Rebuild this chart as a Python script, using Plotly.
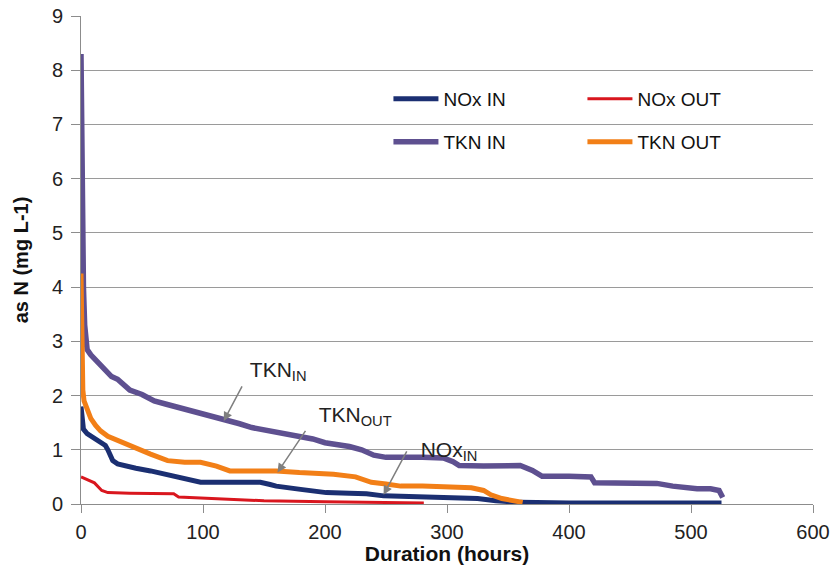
import plotly.graph_objects as go

# ---- data ----
nox_in_x = [0, 1, 2, 5, 10, 16, 20, 22, 26, 30, 35, 45, 57, 65, 71, 85, 98, 120, 147, 155, 160, 180, 201, 220, 234, 248, 270, 300, 325, 340, 352, 360, 400, 450, 500, 525]
nox_in_y = [1.8, 1.5, 1.38, 1.3, 1.22, 1.14, 1.08, 1.0, 0.8, 0.74, 0.71, 0.66, 0.61, 0.57, 0.52, 0.45, 0.40, 0.40, 0.40, 0.36, 0.33, 0.27, 0.21, 0.20, 0.19, 0.15, 0.14, 0.12, 0.10, 0.06, 0.03, 0.03, 0.02, 0.02, 0.02, 0.02]

nox_out_x = [0, 5, 11, 17, 22, 40, 76, 80, 100, 120, 150, 200, 250, 281]
nox_out_y = [0.5, 0.45, 0.39, 0.25, 0.21, 0.20, 0.19, 0.13, 0.11, 0.08, 0.06, 0.04, 0.03, 0.02]

tkn_in_x = [0, 0.5, 2, 3, 5, 8, 12, 16, 20, 25, 30, 35, 40, 50, 60, 70, 80, 90, 100, 110, 120, 130, 140, 150, 160, 170, 180, 190, 200, 210, 220, 230, 240, 250, 260, 270, 280, 290, 297, 305, 310, 330, 360, 370, 378, 400, 418, 421, 440, 460, 472, 485, 494, 505, 516, 523, 526]
tkn_in_y = [8.3, 6.0, 4.0, 3.3, 2.85, 2.75, 2.65, 2.55, 2.45, 2.35, 2.3, 2.2, 2.1, 2.02, 1.9, 1.84, 1.78, 1.72, 1.68, 1.62, 1.56, 1.48, 1.41, 1.37, 1.32, 1.28, 1.26, 1.2, 1.13, 1.1, 1.06, 1.0, 0.9, 0.86, 0.85, 0.86, 0.86, 0.86, 0.85, 0.78, 0.71, 0.70, 0.71, 0.62, 0.51, 0.51, 0.50, 0.39, 0.39, 0.39, 0.38, 0.33, 0.30, 0.28, 0.28, 0.25, 0.12]

tkn_out_x = [0, 0.5, 1.5, 2.5, 5, 8, 12, 16, 22, 30, 43, 57, 71, 85, 98, 111, 122, 140, 160, 179, 207, 225, 232, 238, 250, 262, 280, 300, 320, 330, 336, 345, 357, 362]
tkn_out_y = [4.25, 3.0, 2.1, 1.9, 1.72, 1.58, 1.45, 1.35, 1.25, 1.17, 1.04, 0.92, 0.80, 0.77, 0.77, 0.70, 0.61, 0.61, 0.61, 0.58, 0.55, 0.50, 0.45, 0.40, 0.37, 0.33, 0.33, 0.31, 0.30, 0.25, 0.17, 0.10, 0.05, 0.03]

x_ticks = [0, 100, 200, 300, 400, 500, 600]
y_ticks = [0, 1, 2, 3, 4, 5, 6, 7, 8, 9]

# labelled arrows: (label html, head x, head y, tail x, tail y, text vertical anchor)
arrows = [
    ("&nbsp;TKN<sub>IN</sub>", 117, 1.53, 132, 2.17, "bottom"),
    ("&nbsp;&nbsp;TKN<sub>OUT</sub>", 161, 0.58, 184, 1.35, "bottom"),
    ("&nbsp;&nbsp;NOx<sub>IN</sub>", 248, 0.17, 267, 0.97, "middle"),
]

NAVY = "#1B2F72"
RED = "#D9161E"
PURPLE = "#5E5090"
ORANGE = "#F27F17"
FONT = "Liberation Sans, Arial"

fig = go.Figure()
fig.add_trace(go.Scatter(x=nox_in_x, y=nox_in_y, mode="lines", name="NOx IN",
                         line=dict(color=NAVY, width=5), legend="legend"))
fig.add_trace(go.Scatter(x=nox_out_x, y=nox_out_y, mode="lines", name="NOx OUT",
                         line=dict(color=RED, width=3), legend="legend"))
fig.add_trace(go.Scatter(x=tkn_in_x, y=tkn_in_y, mode="lines", name="TKN IN",
                         line=dict(color=PURPLE, width=5.5), legend="legend2"))
fig.add_trace(go.Scatter(x=tkn_out_x, y=tkn_out_y, mode="lines", name="TKN OUT",
                         line=dict(color=ORANGE, width=5), legend="legend2"))

for label, hx, hy, ax_, ay_, yanc in arrows:
    fig.add_annotation(x=hx, y=hy, ax=ax_, ay=ay_, xref="x", yref="y", axref="x", ayref="y",
                       text=label, showarrow=True, arrowhead=2, arrowsize=1.2, arrowwidth=1.5,
                       arrowcolor="#7F7F7F", xanchor="left", yanchor=yanc,
                       font=dict(family=FONT, size=21, color="#222222"))

legend_common = dict(orientation="h", xanchor="left", yanchor="middle",
                     entrywidth=134, entrywidthmode="pixels", itemwidth=45,
                     bgcolor="rgba(0,0,0,0)",
                     font=dict(family=FONT, size=19, color="#111111"),
                     tracegroupgap=0)

fig.update_layout(
    width=834, height=565,
    margin=dict(l=81, r=21, t=16, b=61, autoexpand=False),
    paper_bgcolor="white", plot_bgcolor="white",
    font=dict(family=FONT, color="#222222"),
    showlegend=True,
    legend=dict(x=0.42, y=0.83, **legend_common),
    legend2=dict(x=0.42, y=0.742, **legend_common),
    xaxis=dict(range=[0, 600], tickvals=x_ticks, showgrid=False, zeroline=False,
               showline=True, linecolor="#8C8C8C", linewidth=1, automargin=False,
               ticks="outside", ticklen=8, tickcolor="#8C8C8C", ticklabelstandoff=2,
               tickfont=dict(size=20, color="#222222"),
               title=dict(text="<b>Duration (hours)</b>", font=dict(size=21, color="#111111"), standoff=0)),
    yaxis=dict(range=[0, 9], tickvals=y_ticks, showgrid=True, gridcolor="#9A9A9A", gridwidth=1,
               zeroline=False, showline=True, linecolor="#8C8C8C", linewidth=1, automargin=False,
               ticks="outside", ticklen=9, tickcolor="#8C8C8C", ticklabelstandoff=4,
               tickfont=dict(size=20, color="#222222"),
               title=dict(text="<b>as N (mg L-1)</b>", font=dict(size=20, color="#111111"), standoff=17)),
)

fig.write_html("out.html", config={"displayModeBar": False},
               post_script="document.body.style.margin='0px';")
